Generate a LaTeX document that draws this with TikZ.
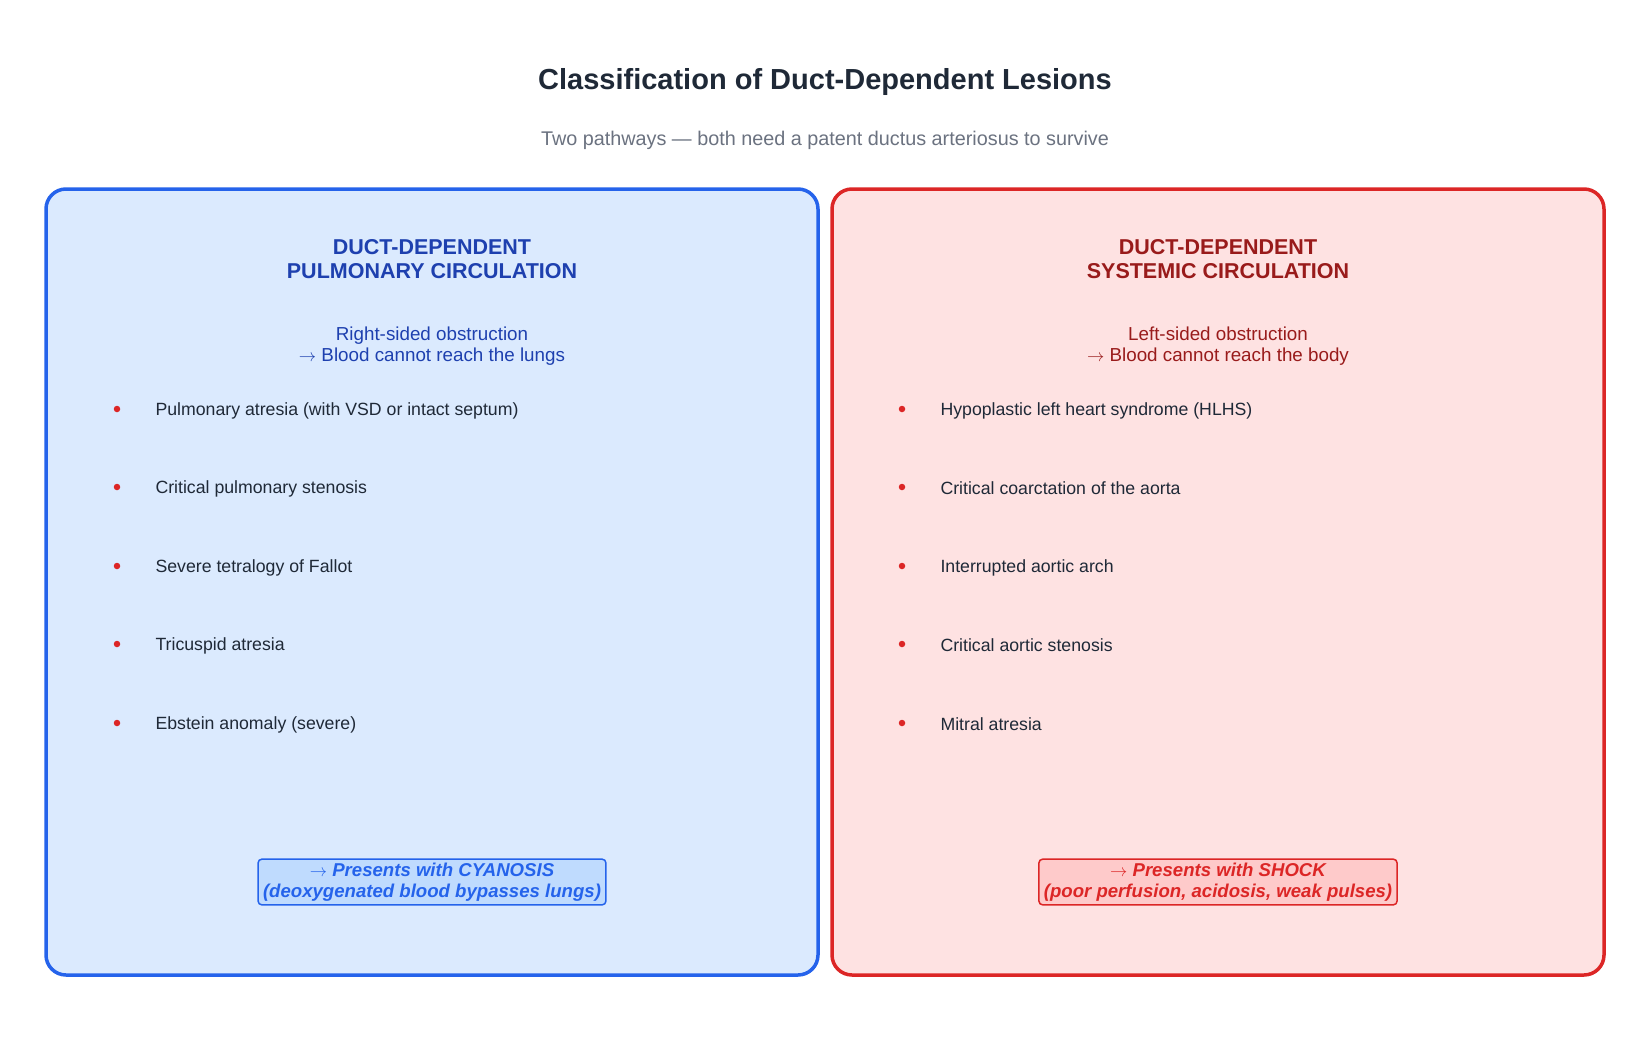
\documentclass[tikz,border=0pt]{standalone}
\usepackage{fontspec}
\setmainfont{Liberation Sans}
\newcommand{\rarr}{\ensuremath{\rightarrow}}
\definecolor{titlec}{HTML}{1F2937}
\definecolor{subc}{HTML}{6B7280}
\definecolor{blueB}{HTML}{2563EB}
\definecolor{blueF}{HTML}{DBEAFE}
\definecolor{blueD}{HTML}{1E40AF}
\definecolor{blueBox}{HTML}{BFDBFE}
\definecolor{redB}{HTML}{DC2626}
\definecolor{redF}{HTML}{FEE2E2}
\definecolor{redD}{HTML}{991B1B}
\definecolor{redBox}{HTML}{FECACA}
\definecolor{itemc}{HTML}{1F2937}
\tikzset{
  panel/.style={draw=#1, line width=3.5pt, rounded corners=20pt},
  ptitle/.style={font=\fontsize{21.5}{23.5}\selectfont\bfseries, text=#1, align=center},
  psub/.style={font=\fontsize{18.8}{21}\selectfont, text=#1, align=center},
  bul/.style={circle, fill=redB, inner sep=0pt, minimum size=6.5pt},
  item/.style={font=\fontsize{17.7}{20}\selectfont, text=itemc, anchor=west},
  present/.style={draw=#1, line width=1.5pt, rounded corners=4pt, font=\fontsize{18.6}{20.5}\selectfont\bfseries\itshape, text=#1, align=center, inner xsep=5pt, inner ysep=4pt}
}
\begin{document}
\begin{tikzpicture}[x=1pt,y=-1pt]
\useasboundingbox (0,0) rectangle (1650,1050);
\fill[white] (0,0) rectangle (1650,1050);
\node[font=\fontsize{29}{33}\selectfont\bfseries, text=titlec] (title) at (825,82) {Classification of Duct-Dependent Lesions};
\node[font=\fontsize{19.8}{23}\selectfont, text=subc] (subtitle) at (825,140) {Two pathways — both need a patent ductus arteriosus to survive};

% left panel
\draw[panel=blueB, fill=blueF] (46,189) rectangle (818,975);
\node[ptitle=blueD] (lt) at (432,259) {DUCT-DEPENDENT\\PULMONARY CIRCULATION};
\node[psub=blueD] (ls) at (432,346) {Right-sided obstruction\\\rarr{} Blood cannot reach the lungs};
\foreach \y/\t [count=\i] in {409/Pulmonary atresia (with VSD or intact septum), 487/Critical pulmonary stenosis, 566/Severe tetralogy of Fallot, 644/Tricuspid atresia, 723/Ebstein anomaly (severe)}{
  \node[bul] (lb\i) at (117,\y) {};
  \node[item] (li\i) at (152,\y+1.5) {\t};
}
\node[present=blueB, fill=blueBox] (lpres) at (432,882) {\rarr{} Presents with CYANOSIS\\(deoxygenated blood bypasses lungs)};

% right panel
\draw[panel=redB, fill=redF] (832,189) rectangle (1604,975);
\node[ptitle=redD] (rt) at (1218,259) {DUCT-DEPENDENT\\SYSTEMIC CIRCULATION};
\node[psub=redD] (rs) at (1218,346) {Left-sided obstruction\\\rarr{} Blood cannot reach the body};
\foreach \y/\t [count=\i] in {409/Hypoplastic left heart syndrome (HLHS), 487/Critical coarctation of the aorta, 566/Interrupted aortic arch, 644/Critical aortic stenosis, 723/Mitral atresia}{
  \node[bul] (rb\i) at (902,\y) {};
  \node[item] (ri\i) at (937,\y+1.5) {\t};
}
\node[present=redB, fill=redBox] (rpres) at (1218,882) {\rarr{} Presents with SHOCK\\(poor perfusion, acidosis, weak pulses)};
\end{tikzpicture}
\end{document}
